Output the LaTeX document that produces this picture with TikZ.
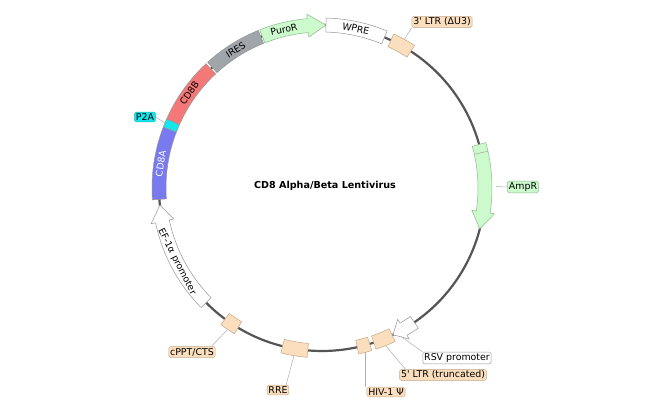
\documentclass[tikz,border=0pt]{standalone}
\usepackage{fontspec}
\newfontfamily\dv{DejaVu Sans}
\definecolor{bb}{RGB}{85,85,85}
\definecolor{grn}{RGB}{204,250,204}
\definecolor{grnd}{RGB}{140,185,140}
\definecolor{pch}{RGB}{250,222,190}
\definecolor{pchd}{RGB}{195,170,140}
\definecolor{ires}{RGB}{160,165,170}
\definecolor{cdb}{RGB}{245,120,120}
\definecolor{pta}{RGB}{20,230,235}
\definecolor{cda}{RGB}{122,122,240}
\definecolor{edge}{RGB}{150,150,150}
\definecolor{lead}{RGB}{175,175,175}
\def\Rm{163}\def\Ri{156}\def\Ro{170}\def\Hi{151.5}\def\Ho{174.5}
\newcommand\featbox[3]{\path[#1] (#2:\Ri pt) arc[start angle=#2,end angle=#3,radius=\Ri pt] -- (#3:\Ro pt) arc[start angle=#3,end angle=#2,radius=\Ro pt] -- cycle;}
\newcommand\featarrow[4]{\path[#1] (#2:\Ri pt) arc[start angle=#2,end angle=#3,radius=\Ri pt] -- (#3:\Hi pt) -- (#4:\Rm pt) -- (#3:\Ho pt) -- (#3:\Ro pt) arc[start angle=#3,end angle=#2,radius=\Ro pt] -- cycle;}
\begin{document}
\begin{tikzpicture}[x=1pt,y=1pt,
  feat/.style={draw=edge,line width=0.5pt,line join=round},
  flab/.style={font=\dv\fontsize{9.3}{10}\selectfont,inner sep=0pt},
  lab/.style={font=\dv\fontsize{9.4}{10}\selectfont,draw=#1,rounded corners=1.5pt,inner sep=1.4pt,line width=0.4pt},
  leader/.style={draw=lead,line width=0.5pt}]
\useasboundingbox (-322,-226) rectangle (335,188);
% backbone
\draw[bb,line width=2.2pt] (0,0) circle[radius=\Rm pt];
% features
\featarrow{feat,fill=grn,draw=grnd}{111.5}{95}{88.6}
\featbox{feat,fill=white}{88.6}{67.5}
\featbox{feat,fill=pch,draw=pchd}{65}{57}
\featarrow{feat,fill=grn,draw=grnd}{15.5}{-8.5}{-14.5}
\draw[edge,line width=0.4pt] (12.5:\Ri pt) -- (12.5:\Ro pt);
\featarrow{feat,fill=white}{304.5}{300}{295.8}
\featbox{feat,fill=pch,draw=pchd}{288.5}{295.5}
\featbox{feat,fill=pch,draw=pchd}{282.5}{287}
\featbox{feat,fill=pch,draw=pchd}{256}{265}
\featbox{feat,fill=pch,draw=pchd}{233.5}{239}
\featarrow{feat,fill=white}{224.7}{191.8}{186}
\featbox{feat,fill=cda}{159}{184}
\featbox{feat,fill=pta}{156}{159}
\featbox{feat,fill=cdb}{133}{156}
\featbox{feat,fill=ires}{112}{132.3}
% inner labels
\node[flab,rotate=13] (tpuro) at (103.5:\Rm pt) {PuroR};
\node[flab,rotate=-12] (twpre) at (78:\Rm pt) {WPRE};
\node[flab,rotate=32] (tires) at (122:\Rm pt) {IRES};
\node[flab,rotate=54.5] (tcdb) at (144.5:\Rm pt) {CD8B};
\node[flab,rotate=81.5,text=white] (tcda) at (171.5:\Rm pt) {CD8A};
\node[flab,rotate=-63] (tef) at (207:\Rm pt) {EF-1α promoter};
% title
\node[font=\dv\fontsize{9.6}{11}\selectfont\bfseries] (title) at (3,2) {CD8 Alpha/Beta Lentivirus};
% external labels
\node[lab=pchd,fill=pch] (l3ltr) at (120,166) {3\textquotesingle{} LTR (ΔU3)};
\node[lab=grnd,fill=grn] (lamp) at (201,1) {AmpR};
\node[lab=edge,fill=white] (lrsv) at (135,-170) {RSV promoter};
\node[lab=pchd,fill=pch] (l5ltr) at (121,-187) {5\textquotesingle{} LTR (truncated)};
\node[lab=pchd,fill=pch] (lhiv) at (64,-204) {HIV-1 Ψ};
\node[lab=pchd,fill=pch] (lrre) at (-44,-202) {RRE};
\node[lab=pchd,fill=pch] (lcppt) at (-130,-164) {cPPT/CTS};
\node[lab=pta!80!black,fill=pta] (lp2a) at (-177,71) {P2A};
% leader anchors
\coordinate (c3ltr) at (61:\Ro pt);
\coordinate (camp) at (0.5:174);
\coordinate (crsv) at (298:168);
\coordinate (c5ltr) at (292:\Ro pt);
\coordinate (chiv) at (284.7:\Ro pt);
\coordinate (crre) at (260.5:\Ro pt);
\coordinate (ccppt) at (236.3:\Ro pt);
\coordinate (cp2a) at (157.5:\Ro pt);
\draw[leader] (c3ltr) -- (l3ltr.south west);
\draw[leader] (camp) -- (lamp.west);
\draw[leader] (crsv) -- (lrsv.north west);
\draw[leader] (c5ltr) -- ([xshift=6pt]l5ltr.north west);
\draw[leader] (chiv) -- (chiv |- lhiv.north);
\draw[leader] (crre) -- ([xshift=-3pt]lrre.north east);
\draw[leader] (ccppt) -- ([xshift=-4pt]lcppt.north east);
\draw[leader] (cp2a) -- (lp2a.east);
\end{tikzpicture}
\end{document}
